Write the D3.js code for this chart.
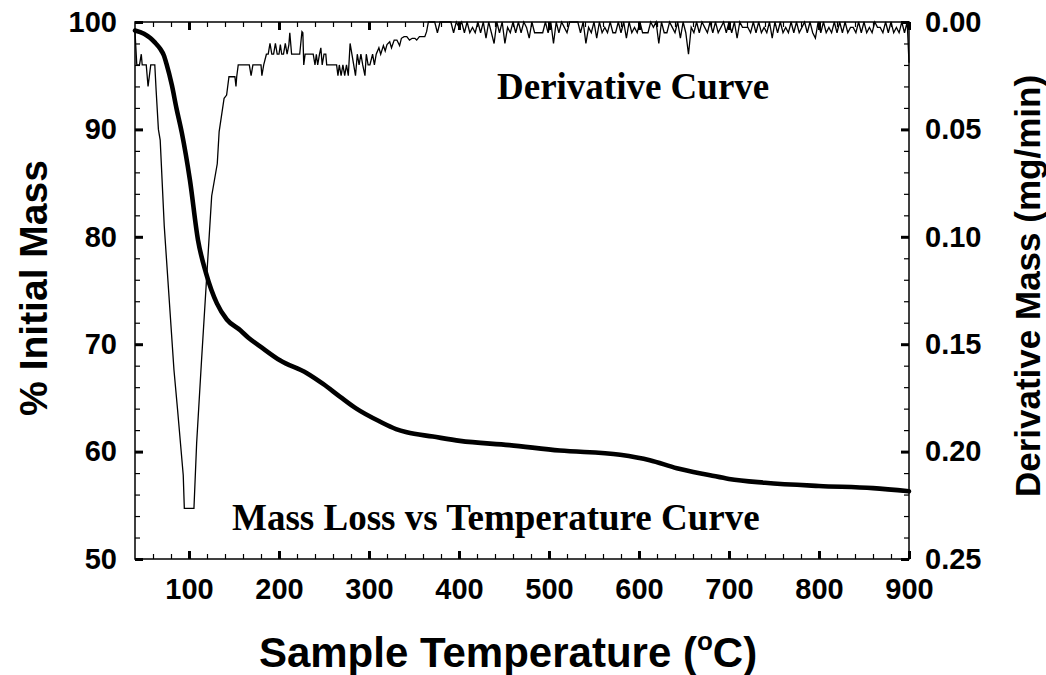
<!DOCTYPE html>
<html>
<head>
<meta charset="utf-8">
<script src="https://cdn.jsdelivr.net/npm/d3@7"></script>
<style>
  body { margin: 0; background: #fff; }
  svg { display: block; }
</style>
</head>
<body>
<svg id="tga"></svg>
<script>
// Temperature ticks (deg C)
const xMajor = [100, 200, 300, 400, 500, 600, 700, 800, 900];
const xMinor = d3.range(60, 900, 20);
// % initial mass ticks
const massMajor = [50, 60, 70, 80, 90, 100];
const massMinor = d3.range(52, 100, 2);
// derivative ticks (mg/min)
const derivMajor = [0, 0.05, 0.10, 0.15, 0.20, 0.25];
const derivMinor = d3.range(0.01, 0.25, 0.01);

// Mass loss curve: [temperature, % initial mass]
const massCurve = [
  [40, 99.2], [50, 98.9], [57, 98.5], [62, 98.1], [68, 97.5], [72, 96.9],
  [75, 96.1], [81, 94.1], [86, 92.0], [92, 89.7], [101, 85.3], [110, 79.7],
  [119, 76.6], [131, 73.8], [142, 72.3], [157, 71.3], [166, 70.6], [179, 69.8],
  [201, 68.5], [231, 67.3], [249, 66.3], [268, 65.1], [286, 64.0], [312, 62.8],
  [330, 62.1], [342, 61.8], [371, 61.4], [401, 61.0], [456, 60.6], [512, 60.1],
  [579, 59.7], [612, 59.2], [642, 58.45], [679, 57.8], [700, 57.45], [740, 57.1],
  [800, 56.8], [860, 56.6], [900, 56.3]
];

// Derivative curve: [temperature, mg/min] (axis is inverted, 0 at top)
const derivCurve = [
  [40, .0045], [42, .020], [45, .020], [47, .015], [48, .020], [52.5, .020],
  [54.5, .030], [57.5, .020], [62, .020], [63.5, .032], [66, .050], [68, .055],
  [72.5, .095], [83.3, .162], [87.4, .181], [93.6, .211], [94.8, .2264],
  [105.5, .2264], [108.5, .196], [114, .157], [125.2, .081], [131.4, .066],
  [133.5, .051], [139, .0355], [141.8, .034], [144.4, .0255], [151, .0255],
  [152.2, .030], [153, .0255], [154.7, .020], [158, .020], [161, .020],
  [164, .020], [167, .020], [169, .025], [171, .020], [174, .020], [177, .020],
  [180, .020], [181, .025], [183, .020], [186, .015], [188, .015], [190, .010],
  [192, .015], [194, .015], [196, .010], [198, .015], [200, .015], [201.5, .0105],
  [203, .015], [205, .015], [207, .010], [209, .015], [211, .0105], [212, .005],
  [214, .015], [217, .015], [220, .015], [223, .015], [225.5, .0045], [226.5, .005],
  [227.5, .020], [229, .015], [232, .015], [235, .015], [238, .015], [240, .020],
  [241.5, .015], [243, .020], [245, .015], [246.5, .012], [248, .020], [250, .015],
  [252, .015], [253, .020], [256, .020], [259, .020], [262, .020], [264, .020],
  [265.5, .025], [267, .020], [269, .025], [271, .020], [273, .025], [275, .020],
  [277, .025], [279, .010], [281, .015], [283, .020], [285, .025], [287, .015],
  [289, .020], [291, .015], [293, .020], [295.5, .025], [297, .015], [299, .020],
  [301, .020], [304, .015], [306, .020], [308, .015], [311, .012], [313, .015],
  [316, .011], [318, .0135], [320, .0105], [323, .0092], [325, .012], [328, .0084],
  [331, .0084], [334, .011], [336, .0076], [339, .0068], [342, .0068], [345, .0084],
  [348, .0076], [351, .0076], [353, .0084], [356, .0068], [359, .0068], [362, .0068],
  [364, .0045], [366, 0], [368, 0],
  [370, 0], [373, 0], [376, .005], [379, 0], [382, 0], [385, 0], [388, 0], [391, 0], [394, .005], [397, 0],
  [400, .0025], [403, 0], [406, .005], [409, 0], [412, .005], [415, .0025], [418, .005], [421, 0], [424, .005], [427, 0],
  [430, .0075], [433, 0], [436, .005], [439, .01], [442, 0], [445, .005], [448, 0], [451, .01], [454, .0025], [457, .005],
  [460, 0], [463, .005], [466, 0], [469, .005], [472, 0], [475, .0025], [478, .0075], [481, 0], [484, .005], [487, .005],
  [490, .005], [493, .005], [496, 0], [499, .005], [502, 0], [505, .01], [508, 0], [511, .005], [514, 0], [517, .0025],
  [520, .005], [523, 0], [526, 0], [529, 0], [532, 0], [535, .005], [538, 0], [541, .01], [544, .0025], [547, .005],
  [550, 0], [553, .0075], [556, 0], [559, .005], [562, .0025], [565, .005], [568, 0], [571, .005], [574, .005], [577, 0],
  [580, .005], [583, 0], [586, .0075], [589, 0], [592, .005], [595, .0025], [598, .005], [601, 0], [604, .005], [607, .005],
  [610, .005], [613, 0], [616, .0025], [619, 0], [622, .01], [625, 0], [628, .005], [631, .005], [634, 0], [637, .0025],
  [640, .005], [643, 0], [646, .0075], [649, 0], [652, .005], [655, .015], [658, .0025], [661, .005], [664, 0], [667, .005],
  [670, 0], [673, .0025], [676, .005], [679, 0], [682, .005], [685, 0], [688, .005], [691, .0025], [694, 0], [697, .005],
  [700, 0], [703, .005], [706, 0], [709, .0075], [712, 0], [715, .0025], [718, .0025], [721, .0025], [724, .005], [727, 0],
  [730, .005], [733, 0], [736, .005], [739, .0025], [742, .005], [745, 0], [748, .0075], [751, 0], [754, .005], [757, 0],
  [760, .005], [763, .0025], [766, .005], [769, 0], [772, .005], [775, 0], [778, .005], [781, .0025], [784, 0], [787, .005],
  [790, 0], [793, .005], [796, .0075], [799, 0], [802, .005], [805, 0], [808, .005], [811, .0025], [814, .005], [817, 0],
  [820, .005], [823, 0], [826, .005], [829, 0], [832, .005], [835, .0025], [838, .0025], [841, .005], [844, 0], [847, .005],
  [850, 0], [853, .005], [856, .0025], [859, .005], [862, 0], [865, .0025], [868, .0025], [871, .005], [874, 0], [877, .005],
  [880, 0], [883, .005], [886, .0025], [889, .005], [892, 0], [895, .005], [898, 0], [900, .019]
];

const width = 1046;
const height = 675;
const plot = { left: 135, right: 909, top: 22, bottom: 559 };

const sans = "'Liberation Sans', Arial, Helvetica, sans-serif";
const serif = "'Liberation Serif', 'Times New Roman', Times, serif";

const svg = d3.select('#tga')
  .attr('width', width)
  .attr('height', height);

const x = d3.scaleLinear().domain([40, 900]).range([plot.left, plot.right]);
const yMass = d3.scaleLinear().domain([50, 100]).range([plot.bottom, plot.top]);
const yDeriv = d3.scaleLinear().domain([0, 0.25]).range([plot.top, plot.bottom]);

// draws one axis: major ticks with labels, minor ticks without, all pointing inward
const drawAxis = (axisFn, scale, major, minor, pos, fmt, pad) => {
  const g = svg.append('g').attr('transform', pos);
  g.append('g')
   .call(axisFn(scale).tickValues(minor).tickSize(-5).tickFormat(''))
   .call(a => a.selectAll('line').attr('stroke-width', 1.2));
  g.append('g')
   .call(axisFn(scale).tickValues(major).tickSize(-8).tickPadding(pad).tickFormat(fmt))
   .call(a => a.selectAll('line').attr('stroke-width', 3));
  g.selectAll('.domain').remove();
  g.selectAll('text')
   .attr('font-family', sans)
   .attr('font-weight', 'bold')
   .attr('font-size', 29)
   .attr('fill', '#000');
  return g;
};

const noLabel = () => '';
drawAxis(d3.axisBottom, x, xMajor, xMinor, `translate(0,${plot.bottom})`, d3.format('d'), 19);
drawAxis(d3.axisTop, x, xMajor, xMinor, `translate(0,${plot.top})`, noLabel, 0);
drawAxis(d3.axisLeft, yMass, massMajor, massMinor, `translate(${plot.left},0)`, d3.format('d'), 18);
drawAxis(d3.axisRight, yDeriv, derivMajor, derivMinor, `translate(${plot.right},0)`, d3.format('.2f'), 16);

// frame
svg.append('rect')
   .attr('x', plot.left)
   .attr('y', plot.top)
   .attr('width', plot.right - plot.left)
   .attr('height', plot.bottom - plot.top)
   .attr('fill', 'none')
   .attr('stroke', '#000')
   .attr('stroke-width', 1.5);

// derivative curve (thin)
svg.append('path')
   .datum(derivCurve)
   .attr('fill', 'none')
   .attr('stroke', '#000')
   .attr('stroke-width', 1.3)
   .attr('stroke-linejoin', 'miter')
   .attr('d', d3.line().x(d => x(d[0])).y(d => yDeriv(d[1])));

// mass curve (thick)
svg.append('path')
   .datum(massCurve)
   .attr('fill', 'none')
   .attr('stroke', '#000')
   .attr('stroke-width', 4.6)
   .attr('stroke-linecap', 'round')
   .attr('d', d3.line().curve(d3.curveMonotoneX).x(d => x(d[0])).y(d => yMass(d[1])));

// curve annotations
svg.append('text')
   .attr('x', 497).attr('y', 99)
   .attr('font-family', serif).attr('font-weight', 'bold').attr('font-size', 37)
   .text('Derivative Curve');

svg.append('text')
   .attr('x', 232).attr('y', 530)
   .attr('font-family', serif).attr('font-weight', 'bold').attr('font-size', 37)
   .text('Mass Loss vs Temperature Curve');

// axis titles
const xTitle = svg.append('text')
   .attr('x', 508).attr('y', 667)
   .attr('text-anchor', 'middle')
   .attr('font-family', sans).attr('font-weight', 'bold').attr('font-size', 42);
xTitle.append('tspan').text('Sample Temperature (');
xTitle.append('tspan').attr('font-size', 26).attr('dy', -17).text('o');
xTitle.append('tspan').attr('dy', 17).text('C)');

svg.append('text')
   .attr('transform', `translate(47,288) rotate(-90)`)
   .attr('text-anchor', 'middle')
   .attr('font-family', sans).attr('font-weight', 'bold').attr('font-size', 39)
   .text('% Initial Mass');

svg.append('text')
   .attr('transform', `translate(1040,286) rotate(-90)`)
   .attr('text-anchor', 'middle')
   .attr('font-family', sans).attr('font-weight', 'bold').attr('font-size', 35)
   .text('Derivative Mass (mg/min)');
</script>
</body>
</html>
